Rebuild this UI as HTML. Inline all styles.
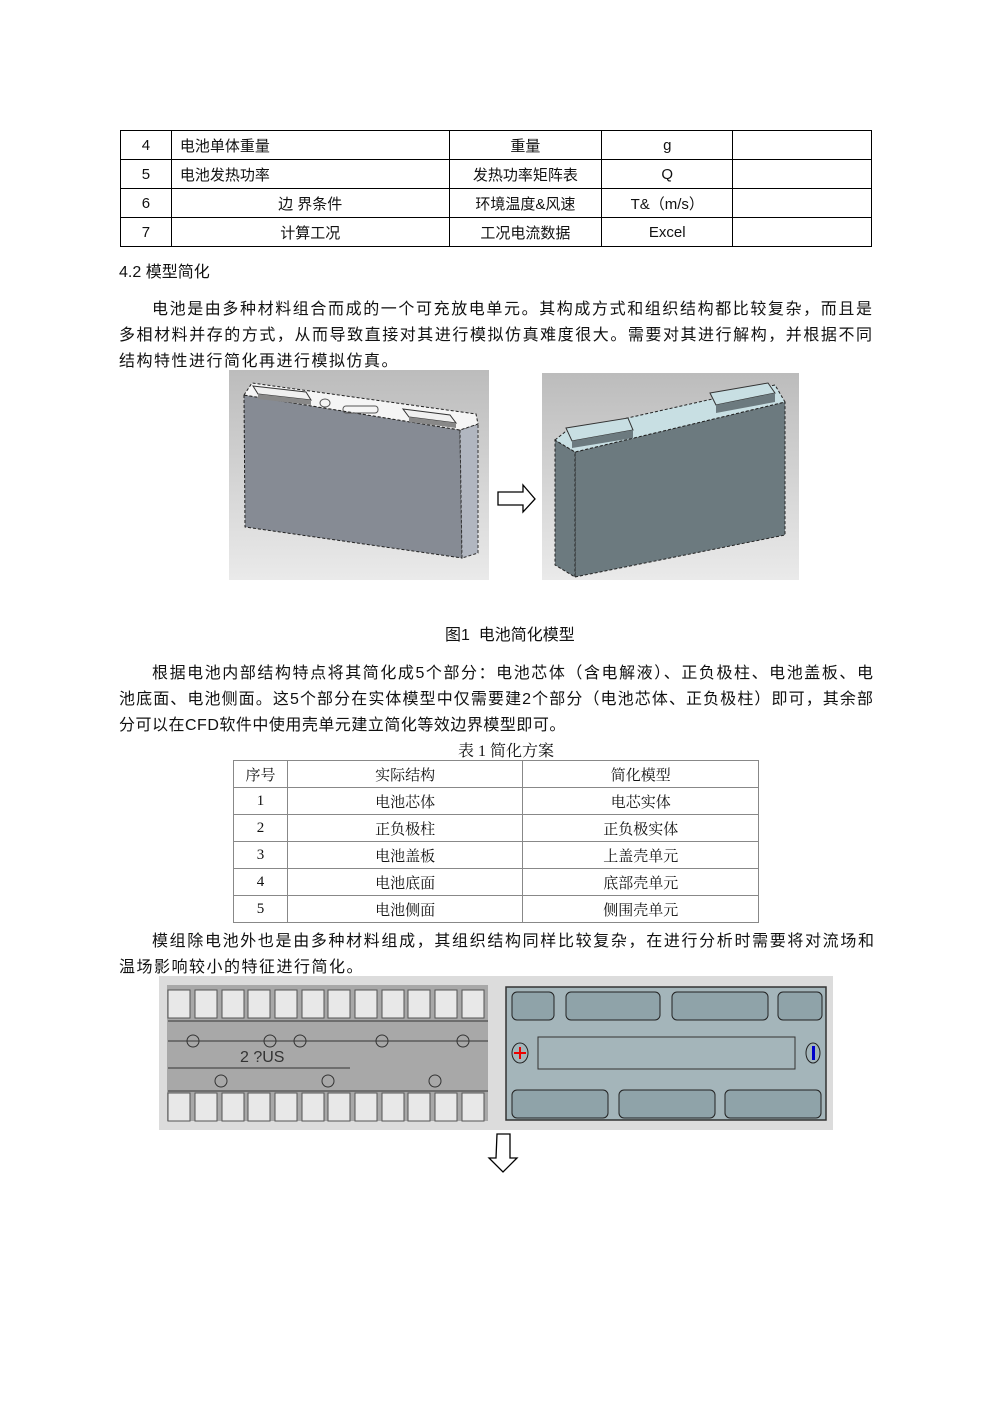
<!DOCTYPE html>
<html><head><meta charset="utf-8"><style>
body{margin:0;background:#fff;}
#p{position:relative;width:992px;height:1403px;font-family:"Liberation Sans","Noto Sans CJK SC",sans-serif;color:#111;font-size:16px;}
.a{position:absolute;white-space:nowrap;}
.j{position:absolute;white-space:nowrap;text-align:justify;text-align-last:justify;}
table{position:absolute;border-collapse:collapse;}
td{padding:0;text-align:center;font-size:15px;}
#t1 td{border:1.5px solid #000;height:28px;}
#t2 td{border:1px solid #888;height:26px;font-family:"Liberation Serif","Noto Serif CJK SC",serif;}
.l{text-align:left!important;padding-left:8px!important;}
</style></head><body><div id="p">
<table id="t1" style="left:120px;top:130px;width:752px;">
<colgroup><col style="width:51px"><col style="width:278px"><col style="width:153px"><col style="width:131px"><col style="width:139px"></colgroup>
<tr><td>4</td><td class="l">电池单体重量</td><td>重量</td><td>g</td><td></td></tr>
<tr><td>5</td><td class="l">电池发热功率</td><td>发热功率矩阵表</td><td>Q</td><td></td></tr>
<tr><td>6</td><td>边 界条件</td><td>环境温度&amp;风速</td><td>T&amp;（m/s）</td><td></td></tr>
<tr><td>7</td><td>计算工况</td><td>工况电流数据</td><td>Excel</td><td></td></tr>
</table>
<div class="a" style="left:119px;top:258px;">4.2 模型简化</div>
<div class="j" style="left:152px;top:295px;width:720px">电池是由多种材料组合而成的一个可充放电单元。其构成方式和组织结构都比较复杂，而且是</div>
<div class="j" style="left:119px;top:321px;width:753px">多相材料并存的方式，从而导致直接对其进行模拟仿真难度很大。需要对其进行解构，并根据不同</div>
<div class="a" style="left:119px;top:347px;letter-spacing:1.5px">结构特性进行简化再进行模拟仿真。</div>
<svg class="a" style="left:0;top:0" width="992" height="1403">
<defs><linearGradient id="g1" x1="0" y1="0" x2="0" y2="1"><stop offset="0" stop-color="#bcbcbc"/><stop offset="1" stop-color="#eaeaea"/></linearGradient></defs>
<rect x="229" y="370" width="260" height="210" fill="url(#g1)"/>
<polygon points="244,395 460,430 462,558 245,527" fill="#868b94" stroke="#222" stroke-dasharray="3,2"/>
<polygon points="460,430 478,424 478,553 462,558" fill="#b1b6c0" stroke="#333" stroke-dasharray="3,2"/>
<polygon points="244,395 252,383 476,414 478,424 460,430" fill="#f5f5f5" stroke="#222" stroke-dasharray="3,2"/>
<polygon points="253,386 306,392 311,400 258,394" fill="#f0f0f0" stroke="#333"/>
<polygon points="258,394 311,400 311,405 258,399" fill="#888"/>
<polygon points="403,409 450,415 456,423 409,417" fill="#f0f0f0" stroke="#333"/>
<polygon points="409,417 456,423 456,428 409,422" fill="#888"/>
<ellipse cx="325" cy="403" rx="5" ry="4" fill="none" stroke="#555"/>
<rect x="343" y="406" width="35" height="7" rx="3" fill="none" stroke="#555"/>
<rect x="542" y="373" width="257" height="207" fill="url(#g1)"/>
<polygon points="575,452 785,402 785,535 575,577" fill="#6c7a7f" stroke="#222" stroke-dasharray="3,2"/>
<polygon points="555,440 575,452 575,577 555,565" fill="#6c7a7f" stroke="#222" stroke-dasharray="3,2"/>
<polygon points="555,440 565,432 775,385 785,402 575,452" fill="#c8dfe3" stroke="#222" stroke-dasharray="3,2"/>
<polygon points="566,428 628,418 633,430 572,441" fill="#c8dfe3" stroke="#333"/>
<polygon points="572,441 633,430 633,438 572,448" fill="#6c7a7f"/>
<polygon points="710,393 768,383 775,393 716,405" fill="#c8dfe3" stroke="#333"/>
<polygon points="716,405 775,393 775,402 716,413" fill="#6c7a7f"/>
<polygon points="498,492 523,492 523,485 535,499 523,512 523,505 498,505" fill="#fff" stroke="#000" stroke-width="1.3"/>
<rect x="159" y="976" width="674" height="154" fill="#dcdcdc"/>
<rect x="167" y="985" width="321" height="136" fill="#a8a8a8"/>
<g fill="#e8e8e8" stroke="#555">
<rect x="168" y="990" width="22" height="28"/><rect x="195" y="990" width="22" height="28"/><rect x="222" y="990" width="22" height="28"/><rect x="248" y="990" width="22" height="28"/><rect x="275" y="990" width="22" height="28"/><rect x="302" y="990" width="22" height="28"/><rect x="328" y="990" width="22" height="28"/><rect x="355" y="990" width="22" height="28"/><rect x="382" y="990" width="22" height="28"/><rect x="408" y="990" width="22" height="28"/><rect x="435" y="990" width="22" height="28"/><rect x="462" y="990" width="22" height="28"/>
<rect x="168" y="1093" width="22" height="28"/><rect x="195" y="1093" width="22" height="28"/><rect x="222" y="1093" width="22" height="28"/><rect x="248" y="1093" width="22" height="28"/><rect x="275" y="1093" width="22" height="28"/><rect x="302" y="1093" width="22" height="28"/><rect x="328" y="1093" width="22" height="28"/><rect x="355" y="1093" width="22" height="28"/><rect x="382" y="1093" width="22" height="28"/><rect x="408" y="1093" width="22" height="28"/><rect x="435" y="1093" width="22" height="28"/><rect x="462" y="1093" width="22" height="28"/>
</g>
<g stroke="#333" fill="none"><line x1="168" y1="1021" x2="488" y2="1021"/><line x1="168" y1="1091" x2="488" y2="1091"/><line x1="168" y1="1041" x2="488" y2="1041"/><line x1="168" y1="1068" x2="350" y2="1068"/>
<circle cx="193" cy="1041" r="6"/><circle cx="270" cy="1041" r="6"/><circle cx="300" cy="1041" r="6"/><circle cx="382" cy="1041" r="6"/><circle cx="463" cy="1041" r="6"/><circle cx="221" cy="1081" r="6"/><circle cx="328" cy="1081" r="6"/><circle cx="435" cy="1081" r="6"/></g>
<text x="240" y="1062" font-size="16" fill="#333" font-family="Liberation Sans">2 ?US</text>
<rect x="506" y="987" width="320" height="133" fill="#a4b5ba" stroke="#333" stroke-width="1.5"/>
<g fill="#8fa3a9" stroke="#222">
<rect x="512" y="992" width="42" height="28" rx="5"/><rect x="566" y="992" width="94" height="28" rx="5"/><rect x="672" y="992" width="96" height="28" rx="5"/><rect x="778" y="992" width="44" height="28" rx="5"/>
<rect x="512" y="1090" width="96" height="28" rx="5"/><rect x="619" y="1090" width="96" height="28" rx="5"/><rect x="725" y="1090" width="96" height="28" rx="5"/>
</g>
<rect x="538" y="1037" width="257" height="32" fill="#a4b5ba" stroke="#333"/>
<ellipse cx="520" cy="1053" rx="8" ry="10" fill="#a4b5ba" stroke="#222"/><path d="M514 1053h12M520 1047v12" stroke="#e00" stroke-width="2"/>
<ellipse cx="813" cy="1053" rx="7" ry="10" fill="#a4b5ba" stroke="#222"/><rect x="812" y="1046" width="3" height="14" fill="#00c"/>
<polygon points="497,1134 510,1134 510,1158 517,1158 503,1172 489,1158 496,1158" fill="#fff" stroke="#000" stroke-width="1.3"/>
</svg>
<div class="a" style="left:445px;top:621px;">图1&nbsp;&nbsp;电池简化模型</div>
<div class="j" style="left:152px;top:659px;width:721px">根据电池内部结构特点将其简化成5个部分：电池芯体（含电解液）、正负极柱、电池盖板、电</div>
<div class="j" style="left:119px;top:685px;width:754px">池底面、电池侧面。这5个部分在实体模型中仅需要建2个部分（电池芯体、正负极柱）即可，其余部</div>
<div class="a" style="left:119px;top:711px;letter-spacing:0.5px">分可以在CFD软件中使用壳单元建立简化等效边界模型即可。</div>
<div class="a" style="left:458px;top:738px;font-family:'Liberation Serif','Noto Serif CJK SC',serif;">表&nbsp;1&nbsp;简化方案</div>
<table id="t2" style="left:233px;top:760px;width:526px;">
<colgroup><col style="width:54px"><col style="width:236px"><col style="width:236px"></colgroup>
<tr><td>序号</td><td>实际结构</td><td>简化模型</td></tr>
<tr><td>1</td><td>电池芯体</td><td>电芯实体</td></tr>
<tr><td>2</td><td>正负极柱</td><td>正负极实体</td></tr>
<tr><td>3</td><td>电池盖板</td><td>上盖壳单元</td></tr>
<tr><td>4</td><td>电池底面</td><td>底部壳单元</td></tr>
<tr><td>5</td><td>电池侧面</td><td>侧围壳单元</td></tr>
</table>
<div class="j" style="left:152px;top:927px;width:722px">模组除电池外也是由多种材料组成，其组织结构同样比较复杂，在进行分析时需要将对流场和</div>
<div class="a" style="left:119px;top:953px;letter-spacing:1.5px">温场影响较小的特征进行简化。</div>
</div></body></html>
